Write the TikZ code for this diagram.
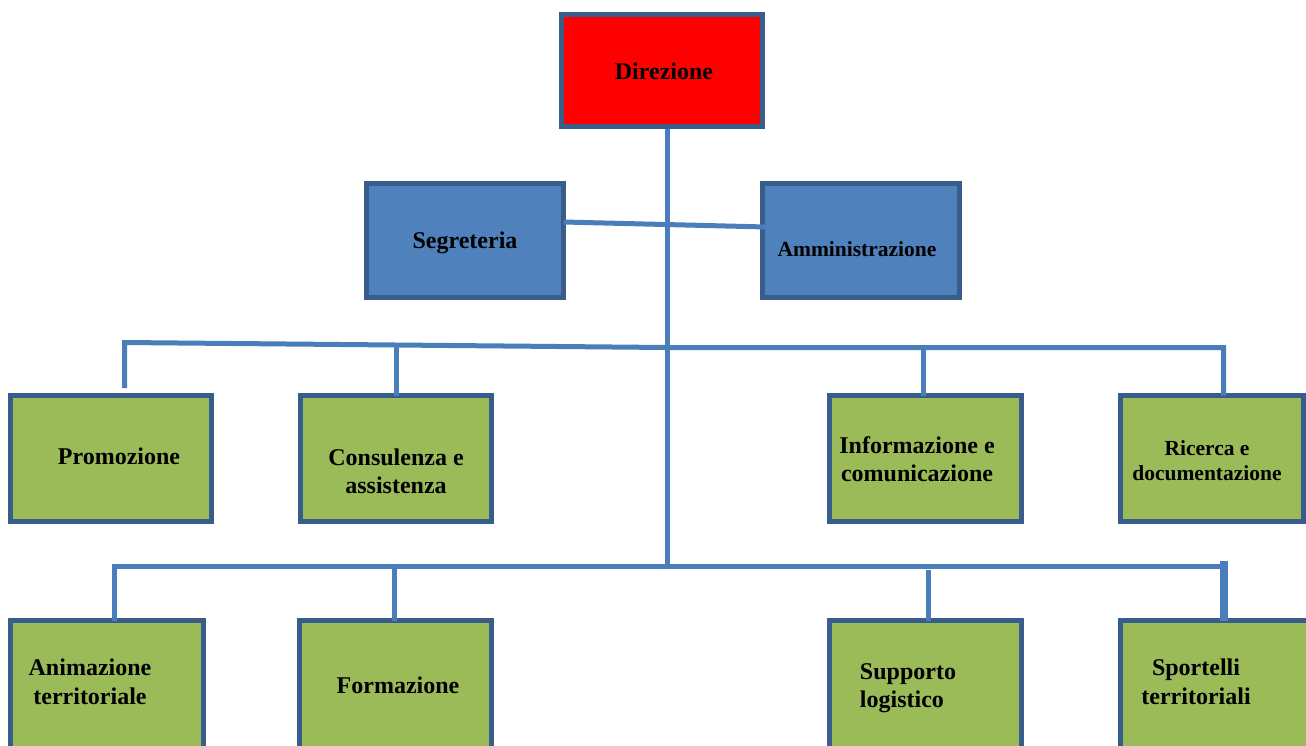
\documentclass[tikz,border=0pt]{standalone}
\usepackage{fontspec}
\setmainfont{Liberation Serif}
\usetikzlibrary{calc}
\definecolor{bord}{HTML}{385D8A}
\definecolor{bluef}{HTML}{4F81BD}
\definecolor{greenf}{HTML}{9BBB59}
\definecolor{linec}{HTML}{4A7EBB}
\begin{document}
\begin{tikzpicture}[x=1pt,y=-1pt,
  box/.style={draw=bord,line width=5pt,inner sep=0pt,outer sep=0pt,rectangle},
  redbox/.style={box,fill=red},
  bluebox/.style={box,fill=bluef,minimum width=197pt,minimum height=114pt},
  greenbox/.style={box,fill=greenf},
  conn/.style={draw=linec,line width=5pt},
  lbl/.style={font=\bfseries\fontsize{24}{28.5}\selectfont,align=center,inner sep=0pt},
  lblsmall/.style={font=\bfseries\fontsize{21.5}{25}\selectfont,align=center,inner sep=0pt},
]
\clip (0,0) rectangle (1306,745);
\fill[white] (0,0) rectangle (1306,745);

% boxes
\node[redbox,minimum width=201pt,minimum height=112pt] (dir) at (662,70.5) {};
\node[bluebox] (seg) at (465,240.5) {};
\node[bluebox] (amm) at (861,240.5) {};
\node[greenbox,minimum width=201pt,minimum height=126pt] (pro) at (111,458.5) {};
\node[greenbox,minimum width=191pt,minimum height=126pt] (con) at (396,458.5) {};
\node[greenbox,minimum width=192pt,minimum height=126pt] (inf) at (925.5,458.5) {};
\node[greenbox,minimum width=183pt,minimum height=126pt] (ric) at (1212,458.5) {};
\node[greenbox,minimum width=193pt,minimum height=159pt] (ani) at (107,700) {};
\node[greenbox,minimum width=192pt,minimum height=159pt] (for) at (395.5,700) {};
\node[greenbox,minimum width=192pt,minimum height=159pt] (sup) at (925.5,700) {};
\node[greenbox,minimum width=209pt,minimum height=159pt] (spo) at (1225,700) {};

% coordinates
\coordinate (trunktop) at (667,129);
\coordinate (trunkbot) at (667,568);
\coordinate (busAleft) at (124.5,342.5);
\coordinate (busAmid) at (667,347.5);
\coordinate (busAright) at (1223.5,347.5);
\coordinate (proend) at (124.5,388);
\coordinate (busBleft) at (114.5,566);
\coordinate (busBright) at (1220,566);
\coordinate (supstart) at (928.5,570);
\coordinate (spostart) at (1224,561);

% connectors
\draw[conn] (trunktop) -- (trunkbot);
\draw[conn] ($(seg.north east)+(0,38.5)$) -- ($(amm.north west)+(4,43.5)$);
\draw[conn,line join=miter] (proend) -- (busAleft) -- (busAmid) -- (busAright) -- (ric.north -| busAright);
\draw[conn] (396,344.5) -- (con.north -| 396,0);
\draw[conn] (923.5,347.5) -- (inf.north -| 923.5,0);
\draw[conn,line join=miter] (ani.north -| busBleft) -- (busBleft) -- (busBright);
\draw[conn] (394,566) -- (for.north -| 394,0);
\draw[conn] (supstart) -- (sup.north -| supstart);
\draw[conn,line width=8pt] (spostart) -- (spo.north -| spostart);

% labels
\node[lbl] (tdir) at (664,71) {Direzione};
\node[lbl] (tseg) at (465,243) {Segreteria};
\node[lblsmall] (tamm) at (857,249) {Amministrazione};
\node[lbl] (tpro) at (119,456) {Promozione};
\node[lbl] (tcon) at (396,471.5) {Consulenza e\\assistenza};
\node[lbl] (tinf) at (917,459) {Informazione e\\comunicazione};
\node[lblsmall] (tric) at (1207,460.5) {Ricerca e\\documentazione};
\node[lbl] (tani) at (90,682) {Animazione\\territoriale};
\node[lbl] (tfor) at (398,685) {Formazione};
\node[lbl,align=left] (tsup) at (908,688) {Supporto\\logistico};
\node[lbl] (tspo) at (1196,682) {Sportelli\\territoriali};
\end{tikzpicture}
\end{document}
